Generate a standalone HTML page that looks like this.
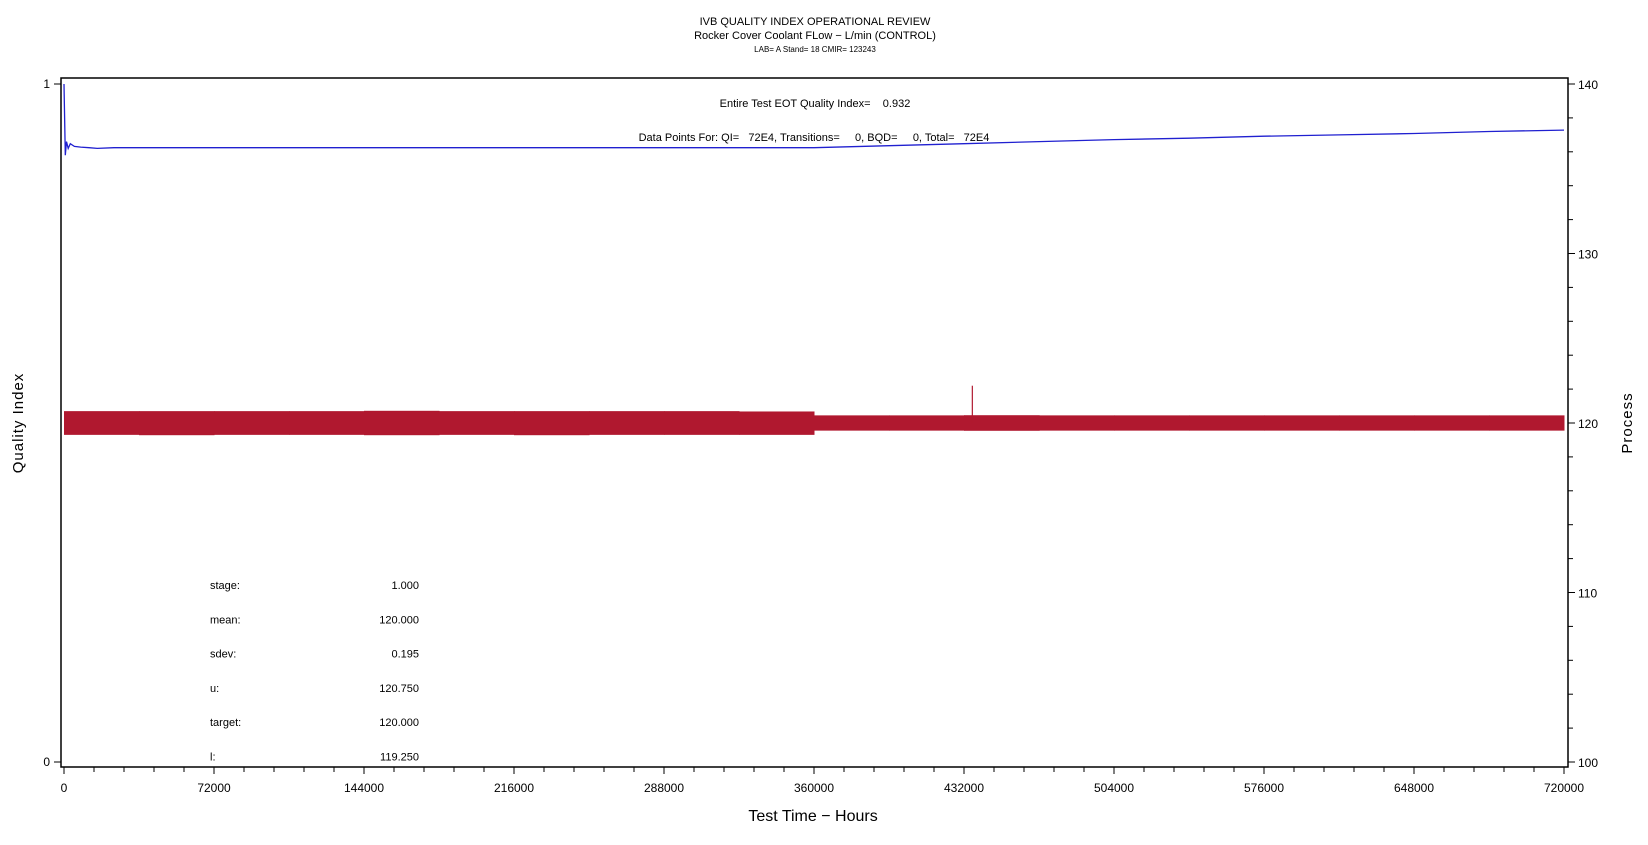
<!DOCTYPE html>
<html><head><meta charset="utf-8"><style>
html,body{margin:0;padding:0;background:#fff;}
svg{display:block;font-family:"Liberation Sans",sans-serif;}
text{white-space:pre;}
</style></head><body>
<svg id="chart" width="1648" height="845" viewBox="0 0 1648 845" xmlns="http://www.w3.org/2000/svg">
<rect width="1648" height="845" fill="#fff"/>
<text x="815" y="25" font-size="11" text-anchor="middle">IVB QUALITY INDEX OPERATIONAL REVIEW</text>
<text x="815" y="39" font-size="11" text-anchor="middle">Rocker Cover Coolant FLow − L/min (CONTROL)</text>
<text x="815" y="52" font-size="8" text-anchor="middle">LAB= A Stand= 18 CMIR= 123243</text>
<rect x="61" y="78" width="1507" height="689" fill="none" stroke="#000" stroke-width="1.5"/>
<text x="815" y="107" font-size="11" text-anchor="middle">Entire Test EOT Quality Index=    0.932</text>
<text x="814" y="141" font-size="11" text-anchor="middle">Data Points For: QI=   72E4, Transitions=     0, BQD=     0, Total=   72E4</text>
<g id="axes"></g>
<g id="marks"></g>
<g id="stats" font-size="11"></g>
<text x="813" y="821" font-size="16" text-anchor="middle">Test Time − Hours</text>
<text x="0" y="0" font-size="15" text-anchor="middle" letter-spacing="1" transform="translate(23,423) rotate(-90)">Quality Index</text>
<text x="0" y="0" font-size="15" text-anchor="middle" letter-spacing="1" transform="translate(1632,423) rotate(-90)">Process</text>
</svg>
<script>
const xTicks = [0,72000,144000,216000,288000,360000,432000,504000,576000,648000,720000];
const qiTicks = [0,1];
const procTicks = [100,110,120,130,140];
const segStart = [0,36000,72000,108000,144000,180000,216000,252000,288000,324000,360000,396000,432000,468000,504000,540000,576000,612000,648000,684000];
const procHigh = [120.70,120.70,120.70,120.70,120.72,120.70,120.70,120.70,120.70,120.68,120.45,120.45,120.46,120.45,120.45,120.45,120.45,120.45,120.45,120.45];
const procLow  = [119.30,119.28,119.30,119.30,119.28,119.30,119.28,119.30,119.30,119.30,119.55,119.55,119.54,119.55,119.55,119.55,119.55,119.55,119.55,119.55];
const spikeX = [436000];
const spikeVal = [122.2];
const qiX = [0,600,1200,2000,3000,5000,8000,12000,16000,24000,360000,396000,432000,468000,504000,540000,576000,612000,648000,684000,720000];
const qiY = [1.0,0.895,0.915,0.905,0.912,0.908,0.907,0.906,0.905,0.906,0.906,0.909,0.912,0.915,0.918,0.920,0.923,0.925,0.927,0.930,0.932];
const stLabels = ["stage:","mean:","sdev:","u:","target:","l:"];
const stValues = ["1.000","120.000","0.195","120.750","120.000","119.250"];

const NS="http://www.w3.org/2000/svg";
const X0=64,X1=1564,Y0=762,Y1=84;
const sx=v=>X0+(v-0)/(720000)*(X1-X0);
const sq=v=>Y0-(v-0)/1*(Y0-Y1);
const sp=v=>Y0-(v-100)/40*(Y0-Y1);
function mk(tag,attrs,parent){const e=document.createElementNS(NS,tag);for(const k in attrs)e.setAttribute(k,attrs[k]);parent.appendChild(e);return e;}
const axes=document.getElementById('axes'),marks=document.getElementById('marks'),stats=document.getElementById('stats');
for(let i=0;i<xTicks.length;i++){
  const x=sx(xTicks[i]);
  const t=mk('line',{x1:x,x2:x,y1:767,y2:774,stroke:'#000'},axes);
  
  
  const l=mk('text',{x:x,y:792,'font-size':12,'text-anchor':'middle'},axes);l.textContent=xTicks[i];
  
  
  if(i<xTicks.length-1){for(let j=1;j<5;j++){const mx=sx(xTicks[i]+j*(xTicks[1]-xTicks[0])/5);
    const m=mk('line',{x1:mx,x2:mx,y1:767,y2:772,stroke:'#000'},axes);
    
    }}
}
for(const v of qiTicks){const y=sq(v);
  const t=mk('line',{x1:54,x2:61,y1:y,y2:y,stroke:'#000'},axes);
  
  
  const l=mk('text',{x:50,y:y+4,'font-size':12,'text-anchor':'end'},axes);l.textContent=v;
  
  }
for(let i=0;i<procTicks.length;i++){const y=sp(procTicks[i]);
  const t=mk('line',{x1:1568,x2:1575,y1:y,y2:y,stroke:'#000'},axes);
  
  
  const l=mk('text',{x:1578,y:y+5,'font-size':12},axes);l.textContent=procTicks[i];
  
  
  if(i<procTicks.length-1){for(let j=1;j<5;j++){const my=sp(procTicks[i]+j*2);
    const m=mk('line',{x1:1568,x2:1573,y1:my,y2:my,stroke:'#000'},axes);
    
    }}}
for(let i=0;i<segStart.length;i++){
  const xa=sx(segStart[i]), xb=sx(i+1<segStart.length?segStart[i+1]:720000);
  const r=mk('rect',{x:xa,y:sp(procHigh[i]),width:xb-xa+0.5,height:sp(procLow[i])-sp(procHigh[i]),fill:'#b0182f'},marks);
  
  
}
for(let i=0;i<spikeX.length;i++){const x=sx(spikeX[i]);
  const s=mk('line',{x1:x,x2:x,y1:sp(spikeVal[i]),y2:sp(120),stroke:'#b0182f','stroke-width':1.2},marks);
  
  }
const pts=qiX.map((v,i)=>sx(v).toFixed(1)+','+sq(qiY[i]).toFixed(1)).join(' ');
const ql=mk('polyline',{points:pts,fill:'none',stroke:'#2020d0','stroke-width':1.3},marks);


for(let i=0;i<stLabels.length;i++){const y=589+i*34.3;
  const a=mk('text',{x:210,y:y},stats);a.textContent=stLabels[i];
  
  
  const b=mk('text',{x:419,y:y,'text-anchor':'end'},stats);b.textContent=stValues[i];
  
  }
</script>
</body></html>
